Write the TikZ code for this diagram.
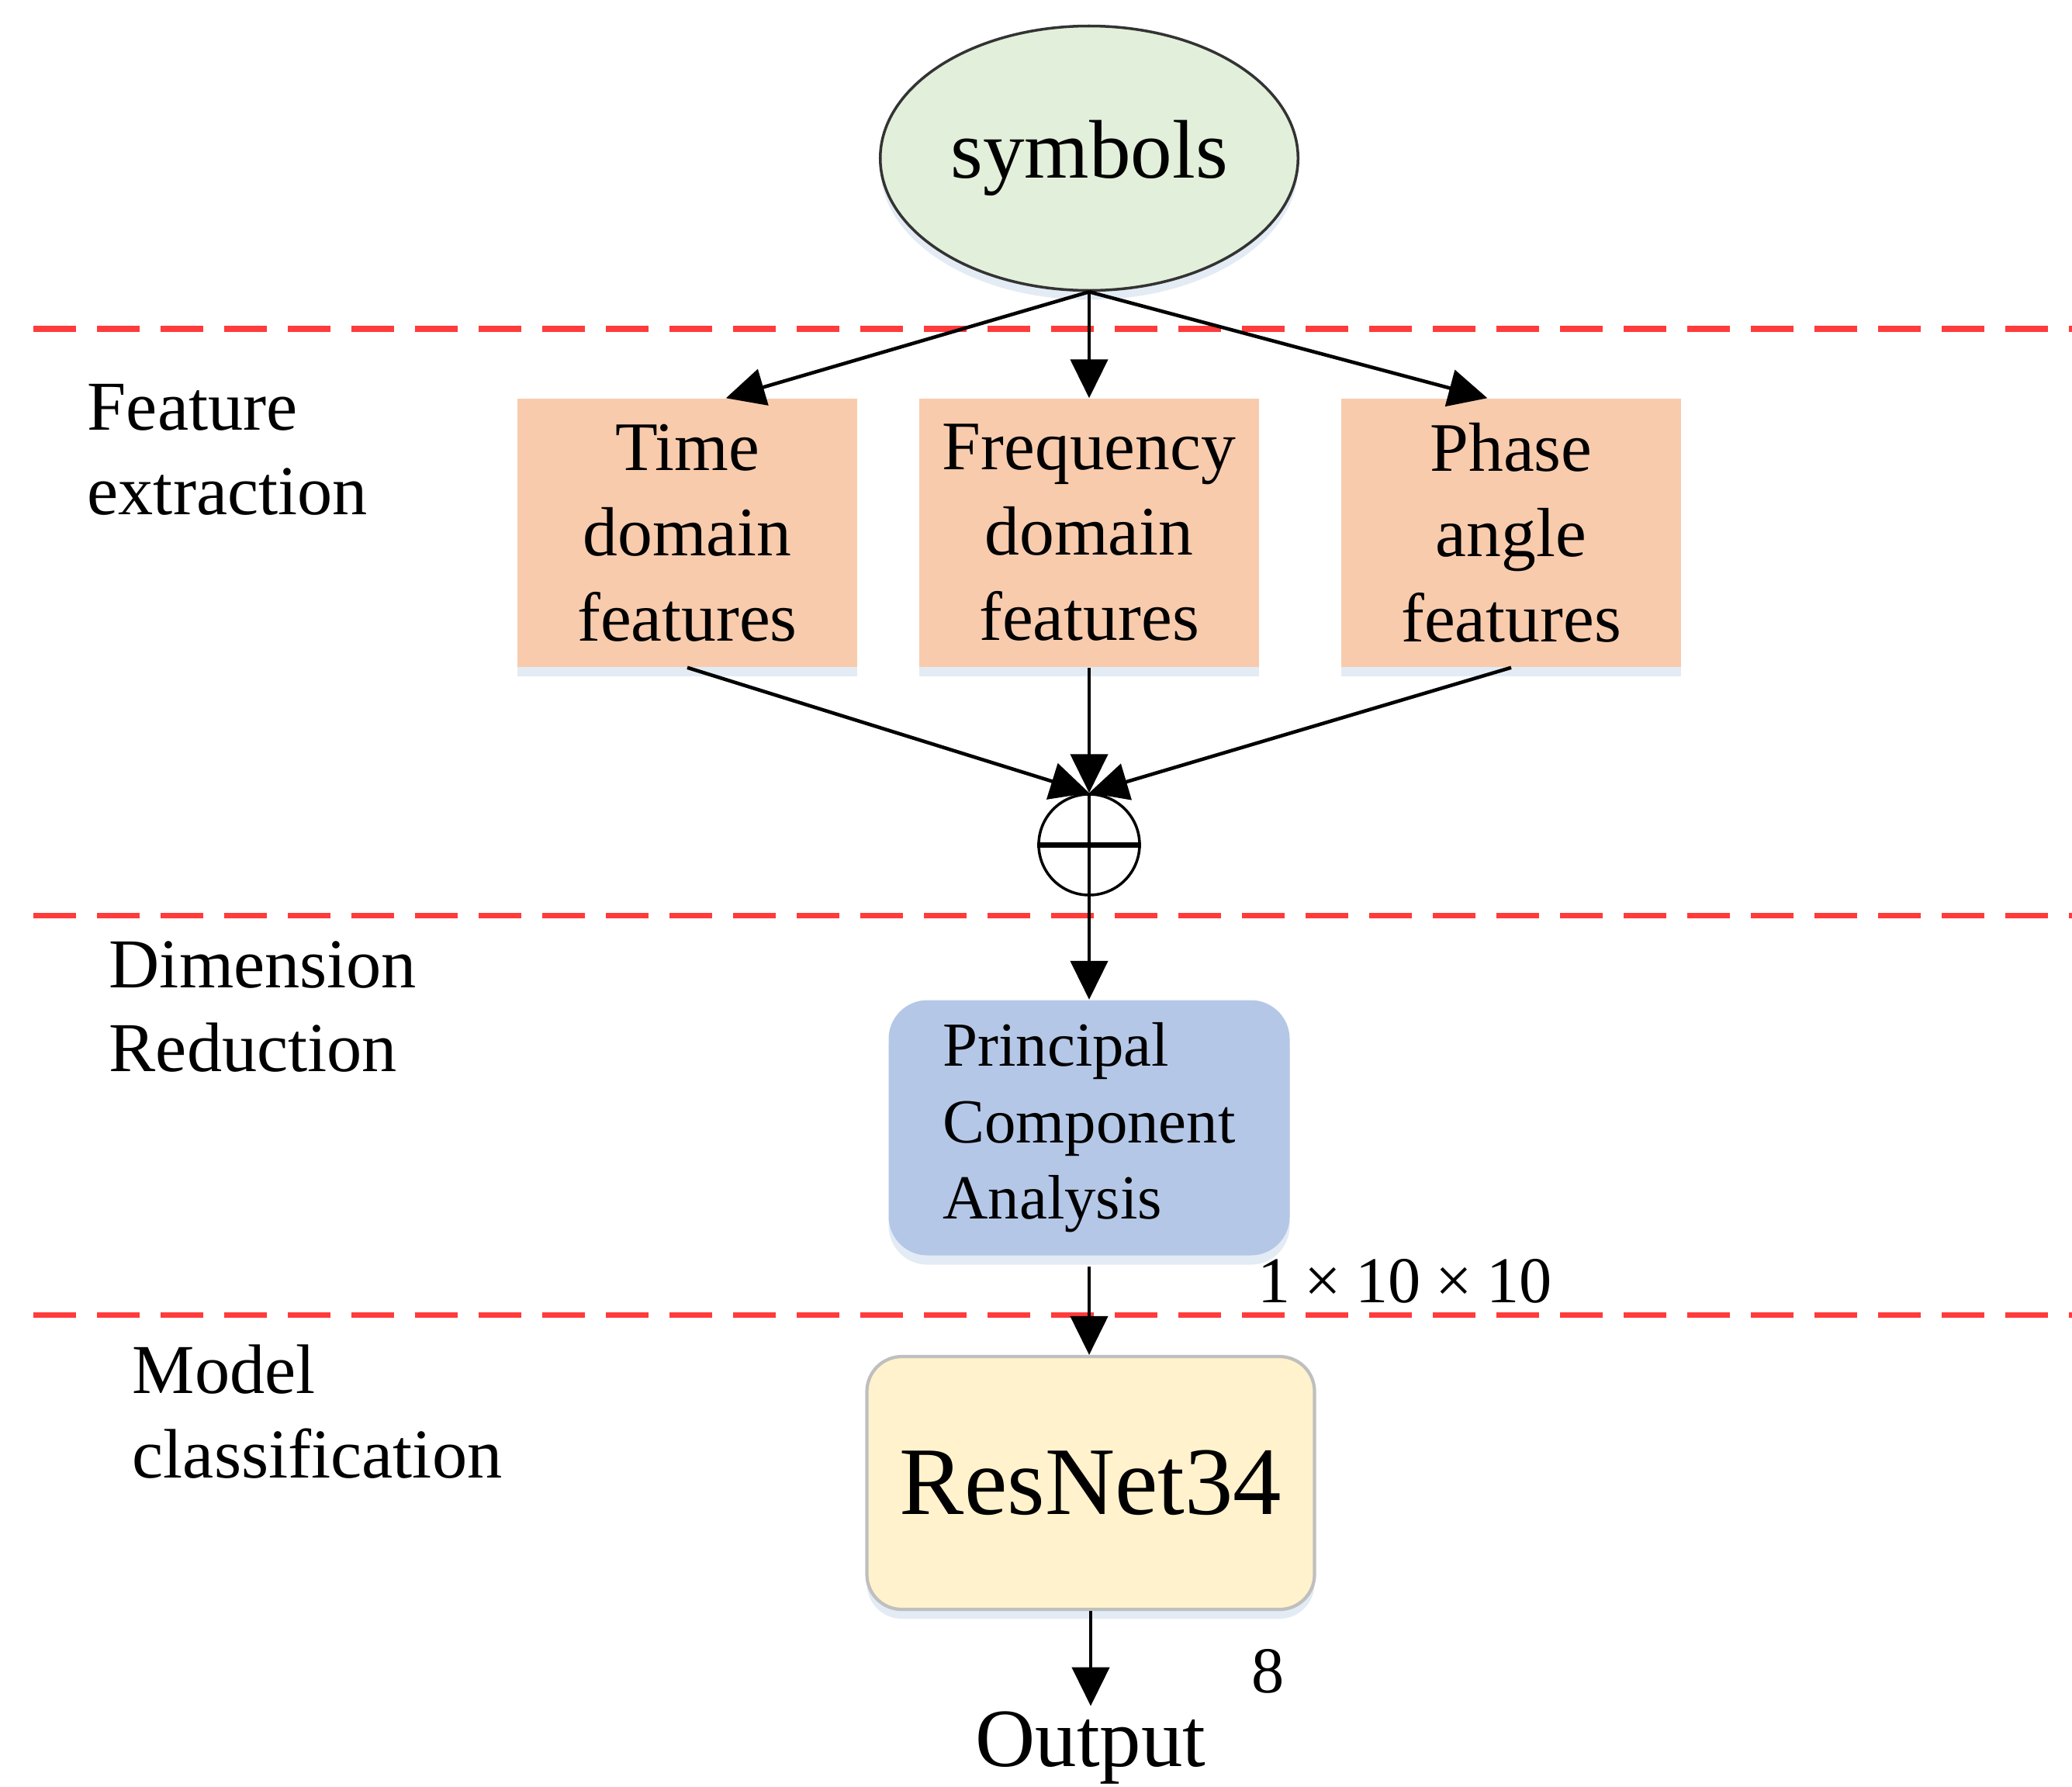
\documentclass[tikz,border=0pt]{standalone}
\usepackage{fontspec}
\setmainfont{Liberation Serif}
\usepackage{tikz}
\usetikzlibrary{arrows.meta}
\usetikzlibrary{shapes.geometric}
\usetikzlibrary{shadows}
\definecolor{symgreen}{HTML}{E2EFDA}
\definecolor{featorange}{HTML}{F8CBAD}
\definecolor{pcablue}{HTML}{B4C7E7}
\definecolor{resyellow}{HTML}{FFF2CC}
\definecolor{glow}{HTML}{DCE6F2}
\definecolor{sepred}{HTML}{FF3B3B}
\tikzstyle{soft}=[drop shadow={fill=glow, opacity=0.8, shadow xshift=0pt, shadow yshift=-0.12cm}]
\tikzstyle{feat}=[soft, fill=featorange, minimum width=4.38cm, minimum height=3.46cm, align=center, font=\fontsize{25.5}{31.3}\selectfont]
\tikzstyle{stage}=[anchor=west, inner sep=0pt, align=left, font=\fontsize{25.7}{31}\selectfont]
\tikzstyle{sep}=[sepred, line width=2pt, dash pattern=on 0.55cm off 0.27cm]
\tikzstyle{flow}=[line width=1.3pt, -{Triangle[length=0.5cm, width=0.48cm]}]
\tikzstyle{dimtext}=[inner sep=0pt, font=\fontsize{24}{24}\selectfont]

\begin{document}
\begin{tikzpicture}
        \useasboundingbox (0, 0) rectangle (26.71, -23.03);
        % stage separators
        \draw[sep] (0.43, -4.24) -- (26.71, -4.24);
        \draw[sep] (0.43, -11.80) -- (26.71, -11.80);
        \draw[sep] (0.43, -16.95) -- (26.71, -16.95);
        \node[stage] (lfeat) at (1.12, -5.80) {Feature\\extraction};
        \node[stage] (ldim) at (1.40, -12.98) {Dimension\\Reduction};
        \node[stage] (lmodel) at (1.70, -18.20) {Model\\classification};

        \node[soft, ellipse, draw=black!80, line width=1pt, fill=symgreen, minimum width=5.14cm, minimum height=3.41cm, font=\fontsize{30.5}{30.5}\selectfont] (sym) at (14.04, -2.04) {symbols};
        \node[feat] (time) at (8.86, -6.87) {Time\\domain\\features};
        \node[feat] (freq) at (14.04, -6.87) {Frequency\\domain\\features};
        \node[feat] (phase) at (19.48, -6.87) {Phase\\angle\\features};
        \node[circle, draw, line width=1pt, minimum size=1.3cm, inner sep=0pt] (plus) at (14.04, -10.89) {};
        \draw[line width=1.3pt] (plus.north) -- (plus.south);
        \draw[line width=2pt] (plus.west) -- (plus.east);
        \node[soft, fill=pcablue, rounded corners=0.5cm, minimum width=5.17cm, minimum height=3.29cm, align=left, font=\fontsize{23}{28}\selectfont] (pca) at (14.04, -14.54) {Principal\\Component\\Analysis};
        \node[soft, fill=resyellow, draw=black!25, line width=1.2pt, rounded corners=0.45cm, minimum width=5.77cm, minimum height=3.26cm, font=\fontsize{35.5}{35.5}\selectfont] (res) at (14.06, -19.12) {ResNet34};
        \node[anchor=base, inner sep=0.06cm, font=\fontsize{30.4}{30.4}\selectfont] (out) at (14.06, -22.77) {Output};
        \node[dimtext] (shape) at (18.11, -16.52) {1\makebox[1em]{×}10\makebox[1em]{×}10};
        \node[dimtext] (classes) at (16.35, -21.55) {8};

        \draw[flow] (sym.south) -- (time.74);
        \draw[flow] (sym.south) -- (freq.north);
        \draw[flow] (sym.south) -- (phase.100);
        \draw[flow] (time.south) -- (plus.north);
        \draw[flow] (freq.south) -- (plus.north);
        \draw[flow] (phase.south) -- (plus.north);
        \draw[flow] (plus.south) -- (pca.north);
        \draw[flow, shorten <=0.14cm] (pca.south) -- (res.north -| pca.south);
        \draw[flow] (res.south) -- (out.north -| res.south);
    \end{tikzpicture}
\end{document}
